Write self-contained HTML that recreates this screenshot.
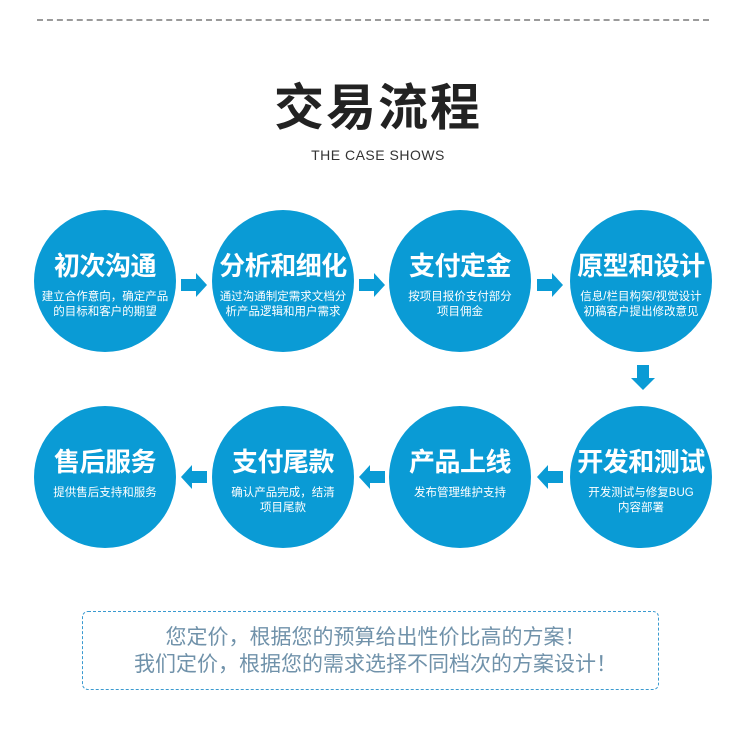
<!DOCTYPE html>
<html><head><meta charset="utf-8"><style>
body{margin:0;width:750px;height:737px;background:#fff;position:relative;overflow:hidden;font-family:"Liberation Sans","Noto Sans CJK SC",sans-serif}
.dl{position:absolute;left:37px;top:19px;width:672px;border-top:2px dashed #9a9a9a}
.t{position:absolute;left:0;width:756px;text-align:center;top:68px;font-size:50px;font-weight:bold;color:#222;letter-spacing:2px}
.s{position:absolute;left:0;width:756px;text-align:center;top:147px;font-size:14px;color:#333;letter-spacing:.5px}
.c{position:absolute;width:142px;height:142px;border-radius:50%;background:#0a9bd5;color:#fff;text-align:center}
.c h{display:block;margin-top:40px;font-size:26px;font-weight:bold;line-height:32px;letter-spacing:-0.5px}
.c p{margin:8px 0 0;font-size:11.5px;line-height:15px}
.a{position:absolute}
.box{position:absolute;left:82px;top:611px;width:577px;height:79px;border:1.5px dashed #3a9ad0;border-radius:6px;text-align:center;color:#7092aa;font-size:21px;line-height:27px;box-sizing:border-box;padding-top:12px;padding-left:10px}
</style></head><body>
<div class="dl"></div>
<div class="t">交易流程</div>
<div class="s">THE CASE SHOWS</div>

<div class="c" style="left:34px;top:210px"><h>初次沟通</h><p>建立合作意向，确定产品<br>的目标和客户的期望</p></div>
<div class="c" style="left:212px;top:210px"><h>分析和细化</h><p>通过沟通制定需求文档分<br>析产品逻辑和用户需求</p></div>
<div class="c" style="left:389px;top:210px"><h>支付定金</h><p>按项目报价支付部分<br>项目佣金</p></div>
<div class="c" style="left:570px;top:210px"><h>原型和设计</h><p>信息/栏目构架/视觉设计<br>初稿客户提出修改意见</p></div>

<div class="c" style="left:34px;top:406px"><h>售后服务</h><p>提供售后支持和服务</p></div>
<div class="c" style="left:212px;top:406px"><h>支付尾款</h><p>确认产品完成，结清<br>项目尾款</p></div>
<div class="c" style="left:389px;top:406px"><h>产品上线</h><p>发布管理维护支持</p></div>
<div class="c" style="left:570px;top:406px"><h>开发和测试</h><p>开发测试与修复BUG<br>内容部署</p></div>

<svg class="a" style="left:0;top:0" width="750" height="737">
<g fill="#0a9bd5">
<polygon points="181,279 196,279 196,273 207,285 196,297 196,291 181,291"/>
<polygon points="359,279 374,279 374,273 385,285 374,297 374,291 359,291"/>
<polygon points="537,279 552,279 552,273 563,285 552,297 552,291 537,291"/>
<polygon points="637,365 649,365 649,378 655,378 643,390 631,378 637,378"/>
<polygon points="207,471 192,471 192,465 181,477 192,489 192,483 207,483"/>
<polygon points="385,471 370,471 370,465 359,477 370,489 370,483 385,483"/>
<polygon points="563,471 548,471 548,465 537,477 548,489 548,483 563,483"/>
</g></svg>

<div class="box">您定价，根据您的预算给出性价比高的方案！<br>我们定价，根据您的需求选择不同档次的方案设计！</div>
</body></html>
